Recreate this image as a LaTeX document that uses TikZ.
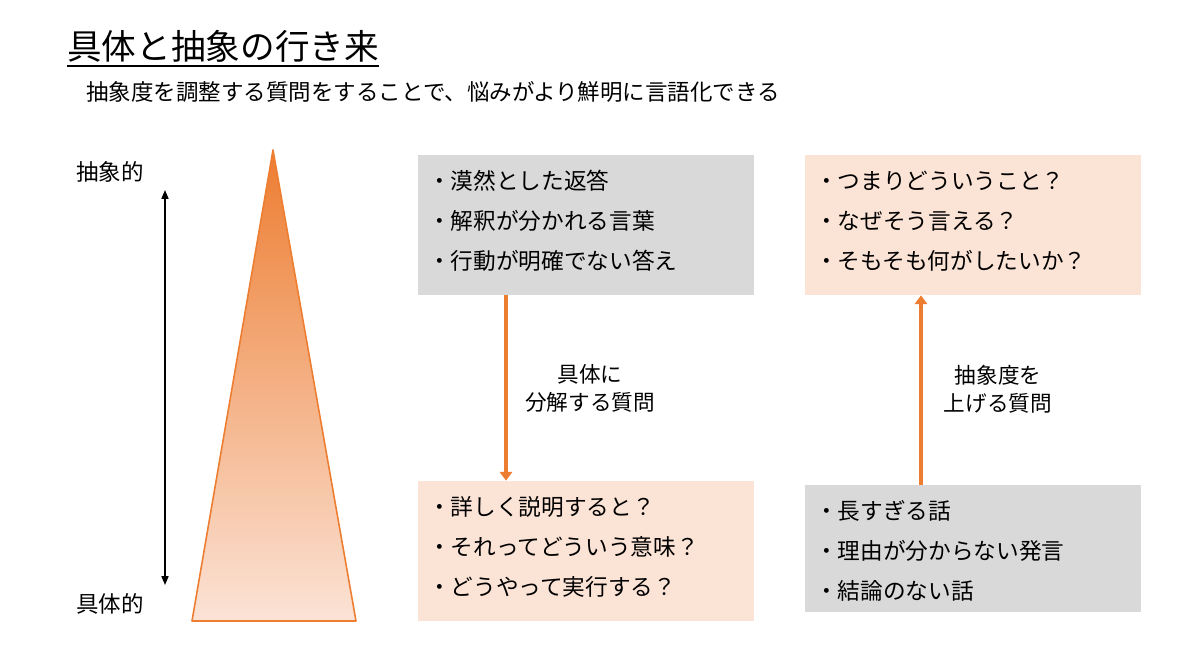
\documentclass[tikz,border=0pt]{standalone}
\usepackage{fontspec}
\setmainfont{Noto Sans CJK JP}
\usetikzlibrary{arrows.meta}
\definecolor{accent}{HTML}{ED7D31}
\definecolor{peach}{HTML}{FBE3D6}
\definecolor{boxgray}{HTML}{D9D9D9}
\begin{document}
\begin{tikzpicture}[
        x=0.02cm, y=-0.02cm,
        every node/.style={font=\fontsize{12.8}{16}\selectfont, inner sep=0pt},
        listbox/.style={rectangle, minimum width=6.72cm, minimum height=2.8cm,
            text width=6.32cm, inner xsep=0.2cm, align=left,
            font=\fontsize{12.9}{22.7}\selectfont,
            execute at end node={\endgraf\vspace{4.5pt}}},
        graybox/.style={listbox, fill=boxgray},
        peachbox/.style={listbox, fill=peach},
        flow/.style={draw=accent, line width=2.2pt,
            -{Triangle[width=7pt,length=5pt]}},
        axisline/.style={line width=0.7pt,
            {Triangle[width=4pt,length=5pt]}-{Triangle[width=4pt,length=5pt]}}
    ]
        \useasboundingbox (0,0) rectangle (1200,672);

        %--------------------------------
        % Title
        %--------------------------------
        \node[anchor=west, font=\fontsize{19.7}{24}\selectfont] (title) at (67,46) {具体と抽象の行き来};
        \draw[line width=1.4pt] ([yshift=-4pt]title.base west) -- ([yshift=-4pt]title.base east);
        \node[anchor=west] (lead) at (86,92) {抽象度を調整する質問をすることで、悩みがより鮮明に言語化できる};

        %--------------------------------
        % Scale
        %--------------------------------
        \node (abstract) at (110,172) {抽象的};
        \node (concrete) at (110,604) {具体的};
        \coordinate (axtop) at (165,190);
        \coordinate (axbot) at (165,585);
        \draw[axisline] (axtop) -- (axbot);

        \shade[top color=accent, bottom color=peach] (273,150) -- (356,621) -- (192,621) -- cycle;
        \draw[accent, line width=0.9pt, line join=round] (273,150) -- (356,621) -- (192,621) -- cycle;

        %--------------------------------
        % Boxes
        %--------------------------------
        \node[graybox] (vague) at (586,225) {・漠然とした返答\\・解釈が分かれる言葉\\・行動が明確でない答え};
        \node[peachbox] (explain) at (586,551) {・詳しく説明すると？\\・それってどういう意味？\\・どうやって実行する？};
        \node[peachbox] (whyq) at (973,225) {・つまりどういうこと？\\・なぜそう言える？\\・そもそも何がしたいか？};
        \node[graybox, minimum height=2.54cm, execute at end node={\vspace{-6.8pt}}] (long) at (973,548.5) {・長すぎる話\\・理由が分からない発言\\・結論のない話};

        %--------------------------------
        % Arrows
        %--------------------------------
        \coordinate (downx) at (506,0);
        \coordinate (upx) at (921,0);
        \draw[flow] (vague.south -| downx) -- (explain.north -| downx);
        \draw[flow] (long.north -| upx) -- (whyq.south -| upx);

        \node[align=center, font=\fontsize{12.3}{15.9}\selectfont] (downlabel) at (590,388) {具体に\\分解する質問};
        \node[align=center, font=\fontsize{12.3}{15.9}\selectfont] (uplabel) at (998,389) {抽象度を\\上げる質問};

    \end{tikzpicture}
\end{document}
